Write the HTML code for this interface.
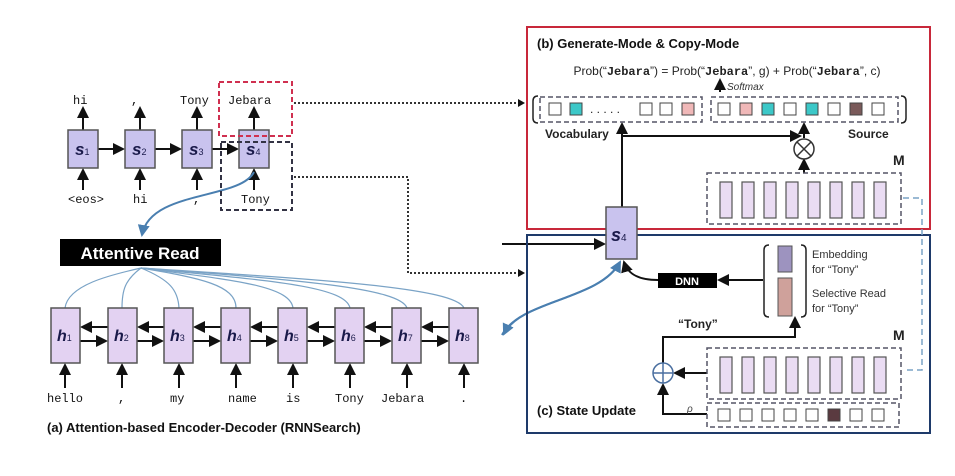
<!DOCTYPE html>
<html><head><meta charset="utf-8"><style>
body{margin:0;background:#fff}
svg{display:block}
.m{font-family:"Liberation Mono",monospace;font-size:12px}
.s{font-family:"Liberation Sans",sans-serif}
</style></head><body>
<svg width="955" height="476" viewBox="0 0 955 476" xmlns="http://www.w3.org/2000/svg">
<defs>
<marker id="a" markerWidth="6" markerHeight="6" refX="5" refY="3" orient="auto"><path d="M0,0 L6,3 L0,6z" fill="#111"/></marker>
<marker id="b" markerWidth="6" markerHeight="6" refX="5" refY="3" orient="auto"><path d="M0,0 L6,3 L0,6z" fill="#4a7fb0"/></marker>
</defs>
<g stroke="#111" stroke-width="2" fill="none" marker-end="url(#a)">
<line x1="83" y1="130" x2="83" y2="108"/><line x1="140" y1="130" x2="140" y2="108"/><line x1="197" y1="130" x2="197" y2="108"/><line x1="254" y1="130" x2="254" y2="108"/>
<line x1="83" y1="190" x2="83" y2="170"/><line x1="140" y1="190" x2="140" y2="170"/><line x1="197" y1="190" x2="197" y2="170"/><line x1="254" y1="190" x2="254" y2="170"/>
<line x1="98" y1="149" x2="123" y2="149"/><line x1="155" y1="149" x2="180" y2="149"/><line x1="212" y1="149" x2="237" y2="149"/>
<line x1="80" y1="341" x2="106" y2="341"/><line x1="137" y1="341" x2="162" y2="341"/><line x1="193" y1="341" x2="219" y2="341"/><line x1="250" y1="341" x2="276" y2="341"/><line x1="307" y1="341" x2="333" y2="341"/><line x1="364" y1="341" x2="390" y2="341"/><line x1="421" y1="341" x2="447" y2="341"/>
<line x1="108" y1="327" x2="82" y2="327"/><line x1="164" y1="327" x2="139" y2="327"/><line x1="221" y1="327" x2="195" y2="327"/><line x1="278" y1="327" x2="252" y2="327"/><line x1="335" y1="327" x2="309" y2="327"/><line x1="392" y1="327" x2="366" y2="327"/><line x1="449" y1="327" x2="423" y2="327"/>
<line x1="65" y1="388" x2="65" y2="365"/><line x1="122" y1="388" x2="122" y2="365"/><line x1="179" y1="388" x2="179" y2="365"/><line x1="236" y1="388" x2="236" y2="365"/><line x1="293" y1="388" x2="293" y2="365"/><line x1="350" y1="388" x2="350" y2="365"/><line x1="407" y1="388" x2="407" y2="365"/><line x1="464" y1="388" x2="464" y2="365"/>
<line x1="502" y1="244" x2="604" y2="244"/>
<polyline points="622,207 622,136 800,136"/>
<line x1="622" y1="140" x2="622" y2="124"/>
<line x1="804" y1="173" x2="804" y2="160"/>
<line x1="804" y1="138" x2="804" y2="124"/>
<line x1="720" y1="92" x2="720" y2="80"/>
<line x1="763" y1="280" x2="719" y2="280"/>
<path d="M658,280 C640,280 628,275 624,262"/>
<polyline points="663,363 663,337 795,337 795,318" />
<line x1="707" y1="373" x2="675" y2="373"/>
<polyline points="707,414 663,414 663,385"/>
</g>
<g stroke="#7aa3c6" stroke-width="1.2" fill="none">
<path d="M141,268 C110,275 68,285 65,308"/><path d="M141,268 C125,280 122,290 122,308"/><path d="M141,268 C170,280 178,290 179,308"/><path d="M141,268 C200,278 236,285 236,308"/><path d="M141,268 C230,280 290,285 293,308"/><path d="M141,268 C260,280 345,285 350,308"/><path d="M141,268 C300,280 400,288 407,308"/><path d="M141,268 C330,280 455,288 464,308"/>
</g>
<path d="M254,172 C240,200 150,190 142,235" stroke="#4a7fb0" stroke-width="2" fill="none" marker-end="url(#b)"/>
<path d="M502,335 C520,300 600,300 620,262" stroke="#4a7fb0" stroke-width="2" fill="none" marker-end="url(#b)"/>
<path d="M620,262 C600,300 520,300 504,334" stroke="#4a7fb0" stroke-width="2" fill="none" marker-end="url(#b)"/>
<g fill="#c9c3ee" stroke="#555" stroke-width="1.5">
<rect x="68" y="130" width="30" height="38"/><rect x="125" y="130" width="30" height="38"/><rect x="182" y="130" width="30" height="38"/><rect x="239" y="130" width="30" height="38"/>
</g>
<g font-family="Liberation Sans,sans-serif" font-weight="bold" font-style="italic" fill="#1a1a4a" font-size="17">
<text x="75" y="155">s<tspan font-size="9" font-style="normal" font-weight="normal">1</tspan></text><text x="132" y="155">s<tspan font-size="9" font-style="normal" font-weight="normal">2</tspan></text><text x="189" y="155">s<tspan font-size="9" font-style="normal" font-weight="normal">3</tspan></text><text x="246" y="155">s<tspan font-size="9" font-style="normal" font-weight="normal">4</tspan></text>
</g>
<rect x="219" y="82" width="73" height="54" fill="none" stroke="#d03050" stroke-width="2" stroke-dasharray="5,3"/>
<rect x="221" y="142" width="71" height="68" fill="none" stroke="#334" stroke-width="2" stroke-dasharray="5,3"/>
<g class="m" fill="#111">
<text x="73" y="104">hi</text><text x="131" y="104">,</text><text x="180" y="104">Tony</text><text x="228" y="104">Jebara</text>
<text x="68" y="203">&lt;eos&gt;</text><text x="133" y="203">hi</text><text x="193" y="203">,</text><text x="241" y="203">Tony</text>
<text x="47" y="402">hello</text><text x="118" y="402">,</text><text x="170" y="402">my</text><text x="228" y="402">name</text><text x="286" y="402">is</text><text x="335" y="402">Tony</text><text x="381" y="402">Jebara</text><text x="460" y="402">.</text>
</g>
<g stroke="#333" stroke-width="2" stroke-dasharray="2,2" fill="none">
<line x1="294" y1="103" x2="518" y2="103"/>
<polyline points="294,177 408,177 408,273 518,273"/>
</g>
<path d="M518,99 L525,103 L518,107z M518,269 L525,273 L518,277z" fill="#111"/>
<rect x="60" y="239" width="161" height="27" fill="#000"/>
<text x="140" y="259" text-anchor="middle" class="s" font-size="17" font-weight="bold" fill="#fff">Attentive Read</text>
<g fill="#e3d2f2" stroke="#555" stroke-width="1.5">
<rect x="51" y="308" width="29" height="55"/><rect x="108" y="308" width="29" height="55"/><rect x="164" y="308" width="29" height="55"/><rect x="221" y="308" width="29" height="55"/><rect x="278" y="308" width="29" height="55"/><rect x="335" y="308" width="29" height="55"/><rect x="392" y="308" width="29" height="55"/><rect x="449" y="308" width="29" height="55"/>
</g>
<g font-family="Liberation Sans,sans-serif" font-weight="bold" font-style="italic" fill="#1a1a4a" font-size="16">
<text x="57" y="341">h<tspan font-size="9" font-style="normal" font-weight="normal">1</tspan></text><text x="114" y="341">h<tspan font-size="9" font-style="normal" font-weight="normal">2</tspan></text><text x="170" y="341">h<tspan font-size="9" font-style="normal" font-weight="normal">3</tspan></text><text x="227" y="341">h<tspan font-size="9" font-style="normal" font-weight="normal">4</tspan></text><text x="284" y="341">h<tspan font-size="9" font-style="normal" font-weight="normal">5</tspan></text><text x="341" y="341">h<tspan font-size="9" font-style="normal" font-weight="normal">6</tspan></text><text x="398" y="341">h<tspan font-size="9" font-style="normal" font-weight="normal">7</tspan></text><text x="455" y="341">h<tspan font-size="9" font-style="normal" font-weight="normal">8</tspan></text>
</g>
<text x="47" y="432" class="s" font-size="13" font-weight="bold" fill="#111">(a) Attention-based Encoder-Decoder (RNNSearch)</text>
<rect x="527" y="27" width="403" height="202" fill="none" stroke="#c8283a" stroke-width="2"/>
<text x="537" y="48" class="s" font-size="13" font-weight="bold" fill="#111">(b) Generate-Mode &amp; Copy-Mode</text>
<text x="727" y="75" text-anchor="middle" class="s" font-size="12" fill="#222">Prob(“<tspan font-family="Liberation Mono" font-weight="bold">Jebara</tspan>”) = Prob(“<tspan font-family="Liberation Mono" font-weight="bold">Jebara</tspan>”, g) + Prob(“<tspan font-family="Liberation Mono" font-weight="bold">Jebara</tspan>”, c)</text>
<text x="727" y="90" class="s" font-size="10" font-style="italic" fill="#333">Softmax</text>
<path d="M538,96 Q533,96 533,101 L533,118 Q533,123 538,123 M901,96 Q906,96 906,101 L906,118 Q906,123 901,123" stroke="#222" stroke-width="1.5" fill="none"/>
<g fill="none" stroke="#556" stroke-width="1.5" stroke-dasharray="5,3">
<rect x="540" y="97" width="162" height="25"/><rect x="711" y="97" width="187" height="25"/>
</g>
<g stroke="#444" stroke-width="1">
<rect x="549" y="103" width="12" height="12" fill="#fff"/><rect x="570" y="103" width="12" height="12" fill="#3cc8c8"/>
<rect x="640" y="103" width="12" height="12" fill="#fff"/><rect x="660" y="103" width="12" height="12" fill="#fff"/><rect x="682" y="103" width="12" height="12" fill="#f0b8b8"/>
<rect x="718" y="103" width="12" height="12" fill="#fff"/><rect x="740" y="103" width="12" height="12" fill="#f0b8b8"/><rect x="762" y="103" width="12" height="12" fill="#3cc8c8"/><rect x="784" y="103" width="12" height="12" fill="#fff"/><rect x="806" y="103" width="12" height="12" fill="#3cc8c8"/><rect x="828" y="103" width="12" height="12" fill="#fff"/><rect x="850" y="103" width="12" height="12" fill="#7a5a5a"/><rect x="872" y="103" width="12" height="12" fill="#fff"/>
</g>
<text x="590" y="113" class="s" font-size="12" fill="#222">. . .   . .</text>
<text x="545" y="138" class="s" font-size="12" font-weight="bold" fill="#222">Vocabulary</text>
<text x="848" y="138" class="s" font-size="12" font-weight="bold" fill="#222">Source</text>
<circle cx="804" cy="149" r="10" fill="#fff" stroke="#333" stroke-width="1.5"/>
<path d="M797,142 L811,156 M811,142 L797,156" stroke="#333" stroke-width="1.5"/>
<text x="893" y="165" class="s" font-size="14" font-weight="bold" fill="#222">M</text>
<rect x="707" y="173" width="194" height="51" fill="none" stroke="#556" stroke-width="1.5" stroke-dasharray="5,3"/>
<g fill="#eadcf3" stroke="#555" stroke-width="1.2">
<rect x="720" y="182" width="12" height="36"/><rect x="742" y="182" width="12" height="36"/><rect x="764" y="182" width="12" height="36"/><rect x="786" y="182" width="12" height="36"/><rect x="808" y="182" width="12" height="36"/><rect x="830" y="182" width="12" height="36"/><rect x="852" y="182" width="12" height="36"/><rect x="874" y="182" width="12" height="36"/>
</g>
<rect x="527" y="235" width="403" height="198" fill="none" stroke="#1e3a6a" stroke-width="2"/>
<polyline points="903,198 922,198 922,370 903,370" fill="none" stroke="#7aa3c6" stroke-width="1.5" stroke-dasharray="6,4"/>
<rect x="606" y="207" width="31" height="52" fill="#c9c3ee" stroke="#555" stroke-width="1.5"/>
<text x="611" y="241" font-family="Liberation Sans,sans-serif" font-weight="bold" font-style="italic" fill="#1a1a4a" font-size="18">s<tspan font-size="10" font-style="normal" font-weight="normal">4</tspan></text>
<rect x="658" y="273" width="59" height="15" fill="#000"/>
<text x="687" y="285" text-anchor="middle" class="s" font-size="11" font-weight="bold" fill="#fff">DNN</text>
<path d="M769,245 Q764,245 764,250 L764,312 Q764,317 769,317 M801,245 Q806,245 806,250 L806,312 Q806,317 801,317" stroke="#222" stroke-width="1.5" fill="none"/>
<rect x="778" y="246" width="14" height="26" fill="#9d93bf" stroke="#555"/>
<rect x="778" y="278" width="14" height="38" fill="#cfa19b" stroke="#555"/>
<g class="s" font-size="11" fill="#333">
<text x="812" y="258">Embedding</text><text x="812" y="273">for “Tony”</text><text x="812" y="297">Selective Read</text><text x="812" y="312">for “Tony”</text>
</g>
<text x="678" y="328" class="s" font-size="12" font-weight="bold" fill="#222">“Tony”</text>
<text x="893" y="340" class="s" font-size="14" font-weight="bold" fill="#222">M</text>
<rect x="707" y="348" width="194" height="51" fill="none" stroke="#556" stroke-width="1.5" stroke-dasharray="5,3"/>
<g fill="#eadcf3" stroke="#555" stroke-width="1.2">
<rect x="720" y="357" width="12" height="36"/><rect x="742" y="357" width="12" height="36"/><rect x="764" y="357" width="12" height="36"/><rect x="786" y="357" width="12" height="36"/><rect x="808" y="357" width="12" height="36"/><rect x="830" y="357" width="12" height="36"/><rect x="852" y="357" width="12" height="36"/><rect x="874" y="357" width="12" height="36"/>
</g>
<rect x="707" y="403" width="192" height="24" fill="none" stroke="#556" stroke-width="1.5" stroke-dasharray="5,3"/>
<g stroke="#444" stroke-width="1" fill="#fff">
<rect x="718" y="409" width="12" height="12"/><rect x="740" y="409" width="12" height="12"/><rect x="762" y="409" width="12" height="12"/><rect x="784" y="409" width="12" height="12"/><rect x="806" y="409" width="12" height="12"/><rect x="828" y="409" width="12" height="12" fill="#5a3a40"/><rect x="850" y="409" width="12" height="12"/><rect x="872" y="409" width="12" height="12"/>
</g>
<text x="687" y="412" class="s" font-size="10" font-style="italic" fill="#444">ρ</text>
<circle cx="663" cy="373" r="10" fill="#fff" stroke="#4a6fa0" stroke-width="1.5"/>
<path d="M653,373 L673,373 M663,363 L663,383" stroke="#4a6fa0" stroke-width="1.5"/>
<text x="537" y="415" class="s" font-size="13" font-weight="bold" fill="#111">(c) State Update</text>
</svg>
</body></html>
